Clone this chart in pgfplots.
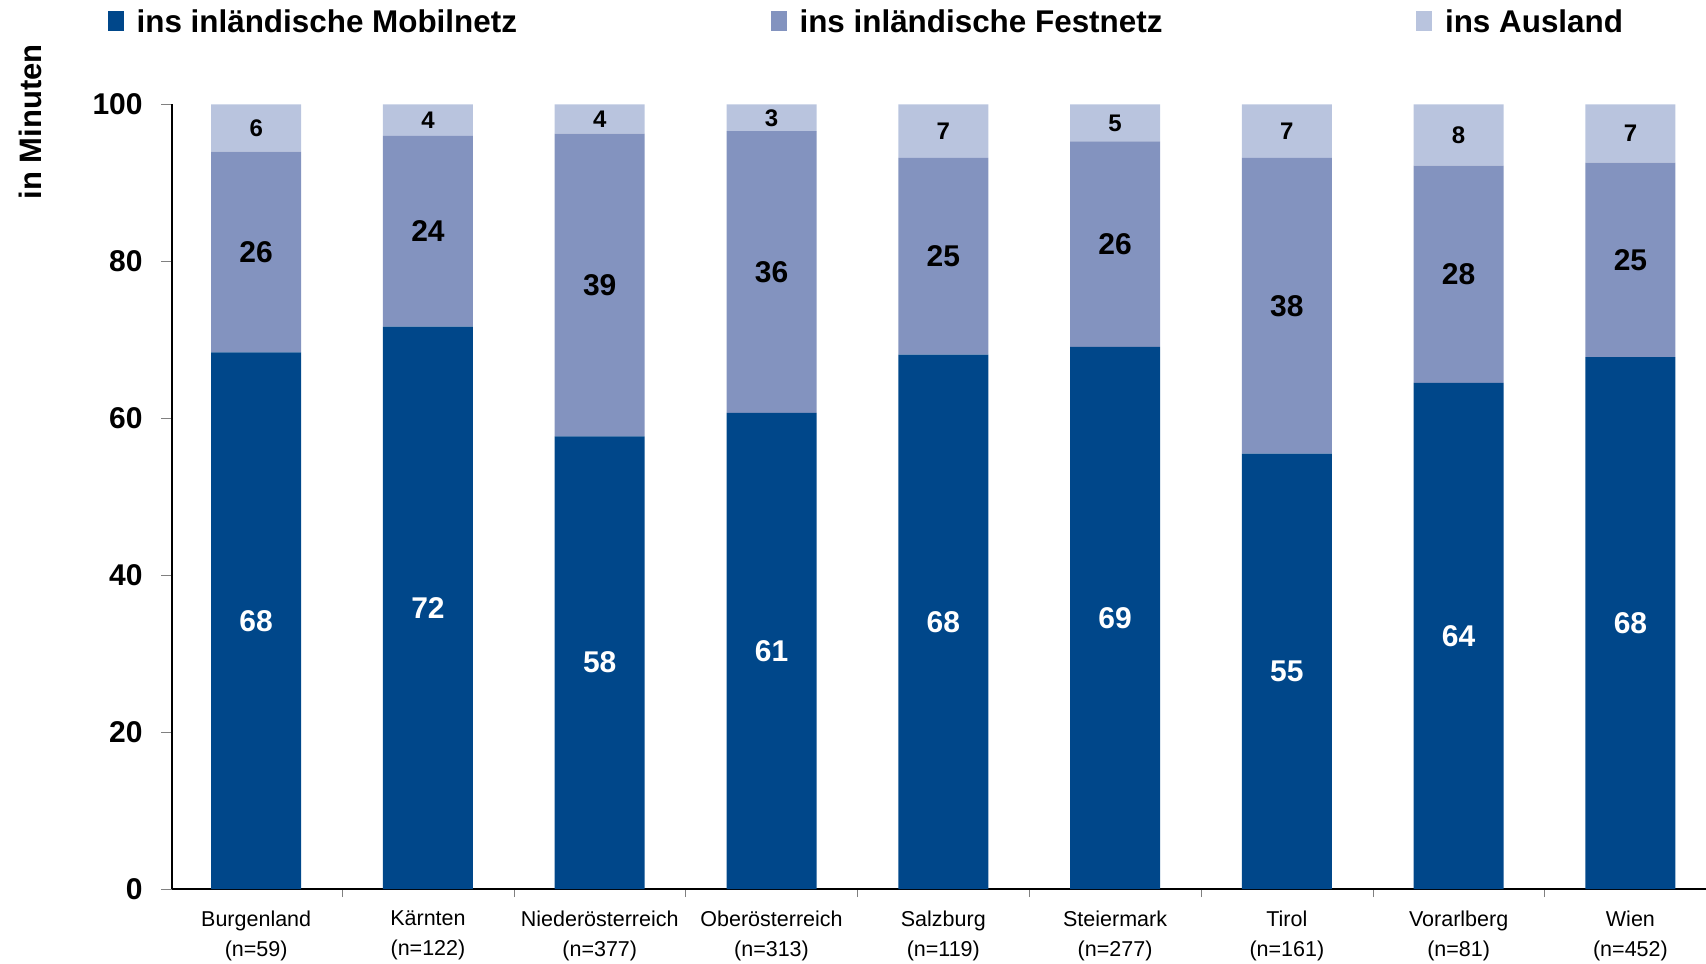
\documentclass[border=0pt]{standalone}
\usepackage{pgfplots}
\pgfplotsset{compat=1.18}
\usepackage{pgfplotstable}
\usepackage{fontspec}
\setmainfont{Liberation Sans}
\definecolor{cMob}{RGB}{0,71,138}
\definecolor{cFest}{RGB}{131,147,191}
\definecolor{cAus}{RGB}{185,196,222}
\pgfplotstableread{
x mob fest aus lm lf la
0 68.4 25.6 6.0 68 26 6
1 71.7 24.3 4.0 72 24 4
2 57.7 38.6 3.7 58 39 4
3 60.7 35.9 3.4 61 36 3
4 68.1 25.1 6.8 68 25 7
5 69.1 26.2 4.7 69 26 5
6 55.5 37.7 6.8 55 38 7
7 64.5 27.7 7.8 64 28 8
8 67.8 24.8 7.4 68 25 7
}\data
\begin{document}
\begin{tikzpicture}
\path[use as bounding box] (0,0) rectangle (853pt,481.5pt);
\pgfplotsset{common/.style={scale only axis, width=767pt, height=392.25pt,
  at={(86pt,37pt)}, anchor=south west, xmin=-0.49, xmax=8.44, ymin=0, ymax=100},
  sq legend/.style={legend image code/.code={\fill[##1] (0pt,-4.3pt) rectangle (7.8pt,5.7pt);}}}
\begin{axis}[common, ybar stacked, bar width=45pt,
  axis lines=left, axis line style={-, line width=0.6pt},
  tick align=outside, major tick length=5.5pt, minor tick length=4pt,
  /pgf/number format/assume math mode=true,
  ytick={0,20,40,60,80,100},
  yticklabel style={font=\bfseries\fontsize{15}{18}\selectfont, inner sep=0pt, xshift=-9pt},
  xtick={0,...,8},
  major x tick style={draw=none},
  minor xtick={-0.5,0.5,...,7.5},
  xticklabels={{Burgenland\\(n=59)},{Kärnten\\(n=122)},{Niederösterreich\\(n=377)},{Oberösterreich\\(n=313)},{Salzburg\\(n=119)},{Steiermark\\(n=277)},{Tirol\\(n=161)},{Vorarlberg\\(n=81)},{Wien\\(n=452)}},
  xticklabel style={align=center, font=\fontsize{10.75}{15}\selectfont, yshift=-2pt},
  ylabel={in Minuten},
  every axis y label/.style={at={(rel axis cs:-0.0926,0.978)}, rotate=90, anchor=center, font=\bfseries\fontsize{15.5}{18}\selectfont},
  legend columns=3, legend cell align=left,
  legend style={at={(rel axis cs:-0.0417,1.088)}, anchor=south west, draw=none, fill=none, inner sep=0pt, outer sep=0pt,
    nodes={inner sep=0pt, font=\bfseries\fontsize{15.7}{18}\selectfont},
    /tikz/every odd column/.append style={column sep=6.5pt},
    /tikz/every even column/.append style={column sep=127pt}},
]
\addplot[fill=cMob, draw=none, sq legend] table[x=x,y=mob]{\data};
\addplot[fill=cFest, draw=none, sq legend] table[x=x,y=fest]{\data};
\addplot[fill=cAus, draw=none, sq legend] table[x=x,y=aus]{\data};
\legend{ins inländische Mobilnetz, ins inländische Festnetz, ins Ausland}
\end{axis}
\begin{axis}[common, hide axis]
\addplot[only marks, mark=none, nodes near coords, point meta=explicit symbolic,
  every node near coord/.append style={anchor=center, text=white, font=\bfseries\fontsize{15}{18}\selectfont}]
  table[x=x, y expr=\thisrow{mob}/2, meta=lm]{\data};
\addplot[only marks, mark=none, nodes near coords, point meta=explicit symbolic,
  every node near coord/.append style={anchor=center, text=black, font=\bfseries\fontsize{15}{18}\selectfont}]
  table[x=x, y expr=\thisrow{mob}+\thisrow{fest}/2, meta=lf]{\data};
\addplot[only marks, mark=none, nodes near coords, point meta=explicit symbolic,
  every node near coord/.append style={anchor=center, text=black, font=\bfseries\fontsize{12}{14}\selectfont}]
  table[x=x, y expr=\thisrow{mob}+\thisrow{fest}+\thisrow{aus}/2, meta=la]{\data};
\end{axis}
\end{tikzpicture}
\end{document}
